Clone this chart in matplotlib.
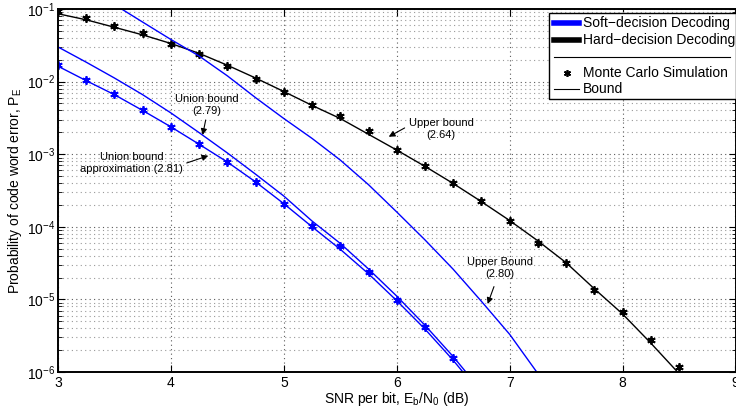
import numpy as np
import matplotlib
matplotlib.use('Agg')
import matplotlib.pyplot as plt
from matplotlib.ticker import LogLocator, NullFormatter, FixedLocator
from matplotlib.patches import Rectangle
from matplotlib.lines import Line2D

plt.rcParams['font.family'] = ['Liberation Sans', 'DejaVu Sans']
plt.rcParams['mathtext.fontset'] = 'custom'
plt.rcParams['mathtext.rm'] = 'Liberation Sans'
plt.rcParams['mathtext.default'] = 'regular'

# SNR grid (dB)
snr_hard = np.arange(3.0, 8.51, 0.25)
snr_soft_sim = np.arange(3.0, 6.51, 0.25)
snr_soft_bound = np.arange(3.0, 6.76, 0.25)
snr_soft_upper = np.arange(3.5, 7.26, 0.25)

# hard-decision decoding
hard_sim = [0.094, 0.075, 0.058, 0.046, 0.0334, 0.0243, 0.0164, 0.0110, 0.00726,
            0.00483, 0.00333, 0.00207, 0.00115, 6.98e-4, 3.97e-4, 2.26e-4,
            1.22e-4, 6.0e-5, 3.13e-5, 1.34e-5, 6.8e-6, 2.75e-6, 1.19e-6]
hard_upper = [0.086, 0.071, 0.056, 0.044, 0.0335, 0.0245, 0.0168, 0.0112, 0.0073,
              0.0047, 0.0031, 0.00188, 0.00114, 6.8e-4, 3.95e-4, 2.22e-4,
              1.22e-4, 6.4e-5, 3.2e-5, 1.4e-5, 6.3e-6, 2.5e-6, 9.5e-7]

# soft-decision decoding
soft_sim = [0.0168, 0.0104, 0.0068, 0.0040, 0.00237, 0.00138, 7.9e-4, 4.1e-4,
            2.06e-4, 1.04e-4, 5.5e-5, 2.38e-5, 9.9e-6, 4.11e-6, 1.56e-6]
soft_union_approx = [0.0163, 0.0103, 0.0066, 0.0040, 0.00238, 0.00137, 7.8e-4,
                     4.15e-4, 2.08e-4, 1.0e-4, 4.9e-5, 2.25e-5, 9.6e-6, 3.9e-6,
                     1.45e-6, 4.9e-7]
soft_union = [0.030, 0.0185, 0.0112, 0.0066, 0.0037, 0.00198, 0.00104, 5.3e-4,
              2.65e-4, 1.2e-4, 5.9e-5, 2.62e-5, 1.11e-5, 4.4e-6, 1.63e-6, 5.5e-7]
soft_upper = [0.115, 0.066, 0.038, 0.0225, 0.0120, 0.0060, 0.0031, 0.00165,
              8.3e-4, 3.8e-4, 1.6e-4, 6.6e-5, 2.6e-5, 9.4e-6, 3.3e-6, 9.5e-7]

fig = plt.figure(figsize=(7.36, 4.11), dpi=100)
L, R, T, B = 58, 735.5, 9, 372
W, H = 736, 411
ax = fig.add_axes([L / W, 1 - B / H, (R - L) / W, (B - T) / H])

ast = (6, 2, 0)
ax.semilogy(snr_hard, hard_upper, color='k', lw=1.0)
ax.semilogy(snr_hard, hard_sim, ls='none', marker=ast, ms=6, mew=1.3, color='k')
ax.semilogy(snr_soft_bound, soft_union, color='b', lw=1.0)
ax.semilogy(snr_soft_bound, soft_union_approx, color='b', lw=1.0)
ax.semilogy(snr_soft_upper, soft_upper, color='b', lw=1.0)
ax.semilogy(snr_soft_sim, soft_sim, ls='none', marker=ast, ms=6, mew=1.3, color='b')

ax.set_xlim(3, 9)
ax.set_ylim(1e-6, 1e-1)
ax.xaxis.set_major_locator(FixedLocator([3, 4, 5, 6, 7, 8, 9]))
ax.yaxis.set_major_locator(LogLocator(base=10, numticks=10))
ax.yaxis.set_minor_locator(LogLocator(base=10, subs=np.arange(2, 10), numticks=20))
ax.yaxis.set_minor_formatter(NullFormatter())

ax.tick_params(which='both', direction='in', top=True, right=True, labelsize=10)
ax.tick_params(which='major', length=5, width=0.8)
ax.tick_params(which='minor', length=3, width=0.6)
ax.tick_params(axis='x', pad=3)
ax.tick_params(axis='y', pad=2)
for s in ax.spines.values():
    s.set_linewidth(1.4)

ax.grid(True, which='major', ls=(0, (1, 3)), lw=0.8, color='0.35')
ax.grid(True, which='minor', axis='y', ls=(0, (1, 3)), lw=0.8, color='0.6')
ax.set_axisbelow(True)

ax.set_xlabel('SNR per bit, E$_b$/N$_0$ (dB)', fontsize=10, labelpad=0)
ax.set_ylabel('Probability of code word error, P$_E$', fontsize=10, labelpad=2)

arrow = dict(arrowstyle='-|>', color='k', lw=0.8, mutation_scale=9,
             shrinkA=0, shrinkB=0)
ax.annotate('', xy=(4.281, 1.84e-3), xytext=(4.308, 2.96e-3), arrowprops=arrow)
ax.text(4.32, 4.76e-3, 'Union bound\n(2.79)', fontsize=8, ha='center', va='center',
        multialignment='center')
ax.annotate('', xy=(4.331, 9.53e-4), xytext=(4.14, 7.57e-4), arrowprops=arrow)
ax.text(3.651, 7.5e-4, 'Union bound\napproximation (2.81)', fontsize=8,
        ha='center', va='center', multialignment='center')
ax.annotate('', xy=(5.929, 1.74e-3), xytext=(6.07, 2.3e-3), arrowprops=arrow)
ax.text(6.392, 2.22e-3, 'Upper bound\n(2.64)', fontsize=8, ha='center',
        va='center', multialignment='center')
ax.annotate('', xy=(6.805, 8.65e-6), xytext=(6.861, 1.5e-5), arrowprops=arrow)
ax.text(6.914, 2.71e-5, 'Upper Bound\n(2.80)', fontsize=8, ha='center',
        va='center', multialignment='center')


# legend box drawn in axes-fraction coordinates
def fx(px):
    return (px - L) / (R - L)


def fy(py):
    return (B - py) / (B - T)


tr = ax.transAxes
ax.add_patch(Rectangle((fx(549), fy(99)), fx(735.5) - fx(549), fy(13) - fy(99),
                       transform=tr, facecolor='white', edgecolor='k', lw=1.0,
                       zorder=5, clip_on=False))
entries = [
    (23.3, 'Soft\u2212decision Decoding', dict(color='b', lw=4), None),
    (40.0, 'Hard\u2212decision Decoding', dict(color='k', lw=4), None),
    (72.7, 'Monte Carlo Simulation', None, 'k'),
    (89.3, 'Bound', dict(color='k', lw=0.8), None),
]
for py, label, line_kw, mk in entries:
    if line_kw is not None:
        ax.add_line(Line2D([fx(554), fx(579)], [fy(py), fy(py)], transform=tr,
                           zorder=6, clip_on=False, **line_kw))
    if mk is not None:
        ax.add_line(Line2D([fx(566.5)], [fy(py)], transform=tr, ls='none',
                           marker=ast, ms=5, mew=1.2, color=mk, zorder=6,
                           clip_on=False))
    ax.text(fx(583), fy(py), label, transform=tr, fontsize=10, ha='left',
            va='center', zorder=7)
ax.add_line(Line2D([fx(554), fx(730)], [fy(56.7), fy(56.7)], transform=tr,
                   color='k', lw=0.8, zorder=6, clip_on=False))

fig.savefig('out.png', dpi=100)
